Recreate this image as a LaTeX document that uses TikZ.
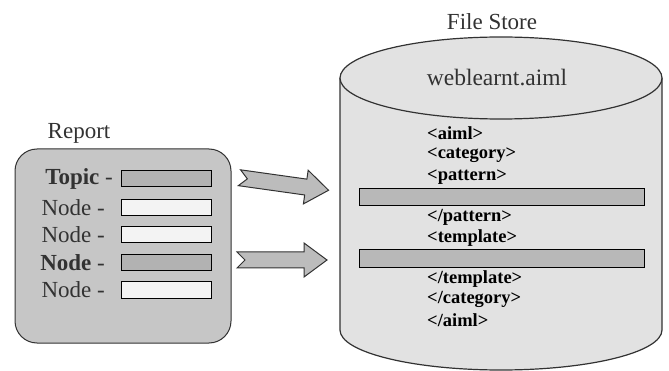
\documentclass[tikz,border=0pt]{standalone}
\usepackage{fontspec}
\setmainfont{Liberation Serif}
\definecolor{panel}{RGB}{198,198,198}
\definecolor{darkslot}{RGB}{178,178,178}
\definecolor{lightslot}{RGB}{243,243,243}
\definecolor{drum}{RGB}{226,226,226}
\definecolor{bar}{RGB}{184,184,184}
\definecolor{arrowfill}{RGB}{188,188,188}
\definecolor{ink}{RGB}{50,50,50}
\tikzset{
  panelbox/.style={draw=ink, line width=1pt, fill=panel, rounded corners=22pt},
  slot/.style={draw=black, line width=1pt},
  rowlabel/.style={anchor=east, inner sep=0pt, font=\fontsize{23}{25}\selectfont, text=ink},
  tag/.style={anchor=west, inner sep=0pt, font=\bfseries\fontsize{18.5}{20}\selectfont},
  drumline/.style={draw=ink, line width=1.2pt},
  bigarrow/.style={draw=ink, line width=1pt, fill=arrowfill, line join=miter},
  title/.style={inner sep=0pt, font=\fontsize{23}{25}\selectfont, text=ink}
}
\begin{document}
\begin{tikzpicture}[x=1pt,y=-1pt]
\useasboundingbox (0,0) rectangle (669,371);

% ---- Report panel ----
\node[title] (reporttitle) at (79,133) {Report};
\draw[panelbox] (15,149) rectangle (231,343);

\node[rowlabel] (l1) at (113,179) {\textbf{Topic} -};
\node[rowlabel] (l2) at (105,208) {Node -};
\node[rowlabel] (l3) at (105,235) {Node -};
\node[rowlabel] (l4) at (105,263) {\textbf{Node} -};
\node[rowlabel] (l5) at (105,290) {Node -};

\draw[slot, fill=darkslot]  (121,171) rectangle (211,187);
\draw[slot, fill=lightslot] (121,200) rectangle (211,216);
\draw[slot, fill=lightslot] (121,227) rectangle (211,243);
\draw[slot, fill=darkslot]  (121,255) rectangle (211,271);
\draw[slot, fill=lightslot] (121,282) rectangle (211,298);

% ---- block arrows ----
\begin{scope}[shift={(284,184)}, rotate=-8]
  \draw[bigarrow] (-45,-8) -- (22,-8) -- (22,-17) -- (45,0) -- (22,17) -- (22,8)
    -- (-45,8) -- (-37,0) -- cycle;
\end{scope}
\begin{scope}[shift={(282,260)}]
  \draw[bigarrow] (-45,-8) -- (22,-8) -- (22,-17) -- (45,0) -- (22,17) -- (22,8)
    -- (-45,8) -- (-37,0) -- cycle;
\end{scope}

% ---- File store cylinder ----
\node[title] (storetitle) at (492,22) {File Store};
\fill[drum] (340,78) -- (340,330) arc[start angle=180, end angle=0, x radius=161, y radius=40] -- (662,78) -- cycle;
\draw[drumline] (340,78) -- (340,330) arc[start angle=180, end angle=0, x radius=161, y radius=40] -- (662,78);
\draw[drumline, fill=drum] (501,78) ellipse[x radius=161, y radius=41];
\node[title, font=\fontsize{23.5}{25}\selectfont] (fname) at (497,78) {weblearnt.aiml};

\node[tag] (t1) at (427,133) {<aiml>};
\node[tag] (t2) at (427,155) {<category>};
\node[tag] (t3) at (427,177) {<pattern>};
\draw[slot, fill=bar] (359,189) rectangle (644,206);
\node[tag] (t4) at (427,217) {</pattern>};
\node[tag] (t5) at (427,238) {<template>};
\draw[slot, fill=bar] (359,250) rectangle (644,268);
\node[tag] (t6) at (427,279) {</template>};
\node[tag] (t7) at (427,299) {</category>};
\node[tag] (t8) at (427,320) {</aiml>};
\end{tikzpicture}
\end{document}
